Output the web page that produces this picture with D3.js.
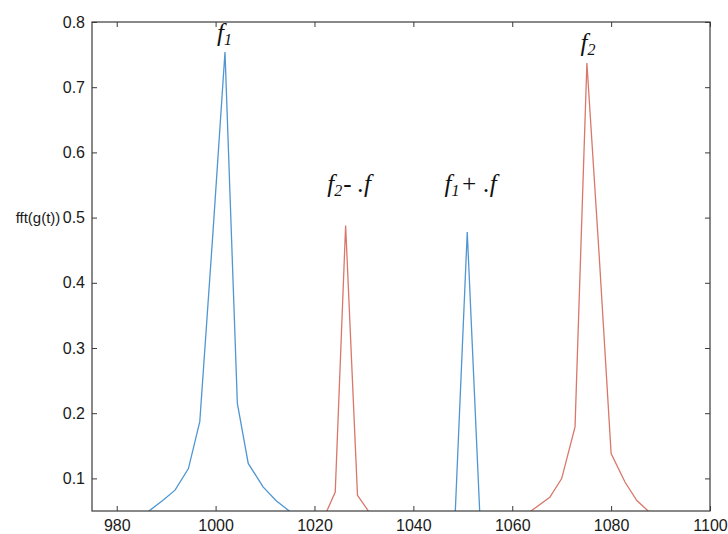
<!DOCTYPE html>
<html>
<head>
<meta charset="utf-8">
<script src="https://cdn.jsdelivr.net/npm/d3@7"></script>
<style>
  html, body { margin: 0; padding: 0; background: #fff; }
  svg { display: block; }
</style>
</head>
<body>
<svg id="chart" width="728" height="534"></svg>
<script>
// ---- data ----
const xTicks = [980, 1000, 1020, 1040, 1060, 1080, 1100];
const yTicks = [0.1, 0.2, 0.3, 0.4, 0.5, 0.6, 0.7, 0.8];
const xDomain = [975, 1100];
const yDomain = [0.05, 0.8];
const yLabel = "fft(g(t))";

// blue series: f1 peak and f1 + f sideband
const blueX = [975, 984.2, 986.7, 989.3, 991.8, 994.5, 996.8, 999.4, 1001.9, 1004.4, 1006.6, 1009.6, 1012.2, 1014.9, 1017.4, 1046.0, 1048.4, 1050.9, 1053.5, 1056.0, 1100];
const blueY = [0.03, 0.035, 0.051, 0.066, 0.082, 0.115, 0.187, 0.47, 0.754, 0.215, 0.123, 0.087, 0.066, 0.05, 0.035, 0.03, 0.035, 0.478, 0.035, 0.03, 0.02];

// red series: f2 - f sideband and f2 peak
const redX = [975, 1020.0, 1022.5, 1024.2, 1026.3, 1028.7, 1030.9, 1033.4, 1061.3, 1063.8, 1067.6, 1070.0, 1072.7, 1075.1, 1077.6, 1080.0, 1082.8, 1085.2, 1087.5, 1090.0, 1100];
const redY = [0.02, 0.03, 0.05, 0.079, 0.488, 0.074, 0.05, 0.03, 0.035, 0.05, 0.071, 0.0997, 0.179, 0.737, 0.44, 0.138, 0.0945, 0.066, 0.05, 0.035, 0.03];

// peak annotations: main letter, subscript, remainder, anchor x, anchor value
const annMain = ["f", "f", "f", "f"];
const annSub = ["1", "2", "2", "1"];
const annRest = ["", "", "- .f", "+ .f"];
const annX = [1000.3, 1073.8, 1022.6, 1046.3];
const annV = [0.771, 0.755, 0.539, 0.539];

// ---- layout ----
const svg = d3.select("#chart");
const L = 92, R = 710, T = 22, B = 511;
const x = d3.scaleLinear().domain(xDomain).range([L, R]);
const y = d3.scaleLinear().domain(yDomain).range([B, T]);

const axisColor = "#3a3a3a";
const blue = "#5096d2";
const red = "#d8776a";

svg.append("defs").append("clipPath").attr("id", "plot-clip")
  .append("rect").attr("x", L).attr("y", T).attr("width", R - L).attr("height", B - T);

// lines
const line = d3.line().x(d => x(d[0])).y(d => y(d[1]));
const blueData = blueX.map((v, i) => [v, blueY[i]]);
const redData = redX.map((v, i) => [v, redY[i]]);

const plot = svg.append("g").attr("clip-path", "url(#plot-clip)");
plot.append("path").datum(redData).attr("d", line)
  .attr("fill", "none").attr("stroke", red).attr("stroke-width", 1.3);
plot.append("path").datum(blueData).attr("d", line)
  .attr("fill", "none").attr("stroke", blue).attr("stroke-width", 1.3);

// axes
function styleAxis(g) {
  g.select(".domain").remove();
  g.selectAll(".tick line").attr("stroke", axisColor).attr("stroke-width", 1);
  g.selectAll(".tick text").attr("fill", "#1a1a1a")
    .attr("font-family", "Liberation Sans, Arial, sans-serif").attr("font-size", 16);
}
svg.append("g").attr("transform", `translate(0,${B})`)
  .call(d3.axisBottom(x).tickValues(xTicks).tickFormat(d3.format("d")).tickSize(-5).tickPadding(9))
  .call(styleAxis);
svg.append("g").attr("transform", `translate(0,${T})`)
  .call(d3.axisTop(x).tickValues(xTicks).tickFormat("").tickSize(-5))
  .call(styleAxis);
svg.append("g").attr("transform", `translate(${L},0)`)
  .call(d3.axisLeft(y).tickValues(yTicks).tickFormat(d3.format(".1f")).tickSize(-5).tickPadding(7))
  .call(styleAxis);
svg.append("g").attr("transform", `translate(${R},0)`)
  .call(d3.axisRight(y).tickValues(yTicks).tickFormat("").tickSize(-5))
  .call(styleAxis);

// frame
svg.append("rect").attr("x", L).attr("y", T).attr("width", R - L).attr("height", B - T)
  .attr("fill", "none").attr("stroke", axisColor).attr("stroke-width", 1.2);

// y label
svg.append("text").attr("x", 38).attr("y", y(0.5) + 5)
  .attr("text-anchor", "middle")
  .attr("font-family", "Liberation Sans, Arial, sans-serif").attr("font-size", 15)
  .attr("fill", "#1a1a1a").text(yLabel);

// annotations
annMain.forEach((m, i) => {
  const t = svg.append("text")
    .attr("x", x(annX[i])).attr("y", y(annV[i]))
    .attr("font-family", "Liberation Serif, Times New Roman, serif")
    .attr("font-style", "italic").attr("font-size", 25).attr("fill", "#111");
  t.append("tspan").text(m);
  t.append("tspan").attr("font-size", 16).attr("dy", 4).text(annSub[i]);
  if (annRest[i]) t.append("tspan").attr("dy", -4).attr("dx", 1).text(annRest[i]);
});
</script>
</body>
</html>
